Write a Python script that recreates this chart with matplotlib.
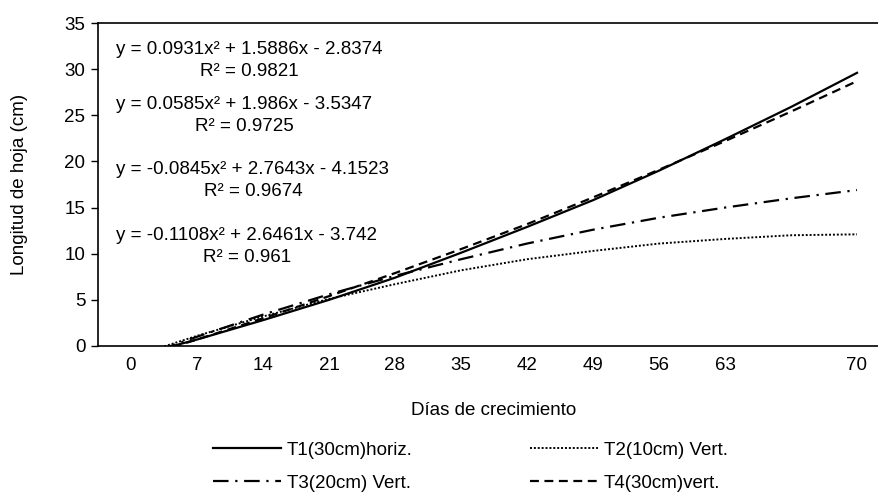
import numpy as np
import matplotlib
matplotlib.use("Agg")
import matplotlib.pyplot as plt

plt.rcParams['font.family'] = ['Liberation Sans', 'DejaVu Sans']

# category labels (one blank category between 63 and 70)
dias = ['0', '7', '14', '21', '28', '35', '42', '49', '56', '63', '', '70']

# trendline values read at each category
t1 = [-1.2, 0.7, 2.8, 5.0, 7.4, 10.1, 12.9, 15.8, 19.0, 22.4, 25.9, 29.6]
t2 = [-1.2, 1.1, 3.2, 5.1, 6.7, 8.2, 9.4, 10.3, 11.1, 11.6, 12.0, 12.1]
t3 = [-1.5, 1.0, 3.4, 5.6, 7.6, 9.4, 11.1, 12.6, 13.9, 15.0, 16.0, 16.9]
t4 = [-1.5, 0.7, 3.0, 5.4, 7.9, 10.5, 13.2, 16.1, 19.1, 22.2, 25.4, 28.7]

ecuaciones = [
    "y = 0.0931x² + 1.5886x - 2.8374\nR² = 0.9821",
    "y = 0.0585x² + 1.986x - 3.5347\nR² = 0.9725",
    "y = -0.0845x² + 2.7643x - 4.1523\nR² = 0.9674",
    "y = -0.1108x² + 2.6461x - 3.742\nR² = 0.961",
]

x = np.arange(1, len(dias) + 1)
fs = 13.5

fig = plt.figure(figsize=(8.79, 4.95), dpi=100)
ax = fig.add_axes([98 / 879, 149 / 495, 792 / 879, 323 / 495])

l1, = ax.plot(x, t1, color='black', linewidth=1.6, linestyle='-', label='T1(30cm)horiz.')
l2, = ax.plot(x, t2, color='black', linewidth=1.4, linestyle=(0, (1, 1)), label='T2(10cm) Vert.')
l3, = ax.plot(x, t3, color='black', linewidth=1.6, linestyle=(0, (7, 3, 1, 3)), label='T3(20cm) Vert.')
l4, = ax.plot(x, t4, color='black', linewidth=1.6, linestyle=(0, (4, 2.5)), label='T4(30cm)vert.')

ax.set_xlim(0.5, 12.5)
ax.set_ylim(0, 35)
ax.set_yticks(np.arange(0, 36, 5))
ax.set_xticks(x)
ax.set_xticklabels(dias)
ax.tick_params(axis='x', length=0, labelsize=fs, pad=8)
ax.tick_params(axis='y', length=5, width=1, labelsize=fs, pad=4)

ax.spines['right'].set_visible(False)
for s in ['left', 'bottom', 'top']:
    ax.spines[s].set_linewidth(1.2)

ax.set_xlabel('Días de crecimiento', fontsize=fs, labelpad=20)
ax.set_ylabel('Longitud de hoja (cm)', fontsize=fs, labelpad=26)

ypos = [30.94, 24.98, 17.93, 10.78]
for txt, yp in zip(ecuaciones, ypos):
    ax.text(0.78, yp, txt, fontsize=fs, ha='left', va='center',
            multialignment='center', linespacing=1.4)

fig.legend(handles=[l1, l3, l2, l4], loc='lower left',
           bbox_to_anchor=(200 / 879, -10 / 495), ncol=2, borderpad=0.2,
           frameon=False, fontsize=fs, handlelength=3.6, handletextpad=0.32,
           columnspacing=6.27, labelspacing=0.85)

fig.savefig('out.png', dpi=100)
